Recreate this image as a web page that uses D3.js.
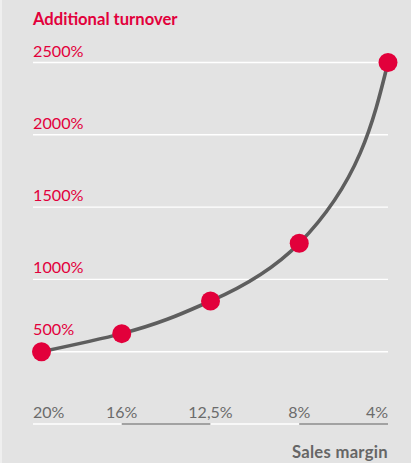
<!DOCTYPE html>
<html>
<head>
<meta charset="utf-8">
<script src="https://cdn.jsdelivr.net/npm/d3@7"></script>
<style>
  html, body { margin: 0; padding: 0; background: #e3e3e3; }
  svg { display: block; }
</style>
</head>
<body>
<script>
const categories = ["20%", "16%", "12,5%", "8%", "4%"];
const values = [500, 625, 850, 1250, 2500];
const yTicks = [500, 1000, 1500, 2000, 2500];
const yTickLabels = ["500%", "1000%", "1500%", "2000%", "2500%"];
const titleText = "Additional turnover";
const xTitleText = "Sales margin";

const W = 411, H = 463;
const red = "#e2003b", grey = "#6b6b6b";
const font = "Lato, 'Open Sans', sans-serif";

const svg = d3.select("body").append("svg").attr("width", W).attr("height", H);
svg.append("rect").attr("width", W).attr("height", H).attr("fill", "#e3e3e3");
svg.append("rect").attr("width", 2).attr("height", H).attr("fill", "#efefef");

const x = d3.scalePoint().domain(categories).range([33, 388]);
const y = d3.scaleLinear().domain([0, 2500]).range([424, 62.5]);
const r = 9.5;
const xLeft = x.range()[0], xRight = x.range()[1];
const cx = c => Math.max(x(c), xLeft + r - 1);

// gridlines
svg.append("g").selectAll("line").data(yTicks).join("line")
  .attr("x1", xLeft).attr("x2", xRight)
  .attr("y1", d => y(d)).attr("y2", d => y(d))
  .attr("stroke", "#ffffff").attr("stroke-width", 1.4);

// y tick labels
svg.append("g").selectAll("text").data(yTicks).join("text")
  .attr("x", xLeft)
  .attr("y", (d, i) => y(d) - (i === 0 ? 17 : 6))
  .attr("fill", red).attr("font-family", font).attr("font-size", 16.2)
  .text((d, i) => yTickLabels[i]);

// bottom axis segments
const segs = d3.pairs(categories);
svg.append("g").selectAll("line").data(segs).join("line")
  .attr("x1", d => x(d[0])).attr("x2", d => x(d[1]))
  .attr("y1", y(0)).attr("y2", y(0))
  .attr("stroke", (d, i) => i % 2 === 0 ? "#ffffff" : "#8c8c8c")
  .attr("stroke-width", 1.4);

// x tick labels
svg.append("g").selectAll("text").data(categories).join("text")
  .attr("x", d => x(d))
  .attr("y", 418)
  .attr("text-anchor", (d, i) => i === 0 ? "start" : (i === categories.length - 1 ? "end" : "middle"))
  .attr("fill", grey).attr("font-family", font).attr("font-size", 16)
  .text(d => d);

// line
const data = categories.map((c, i) => ({ c, v: values[i] }));
const line = d3.line().x(d => cx(d.c)).y(d => y(d.v)).curve(d3.curveMonotoneY);
svg.append("path").datum(data).attr("d", line)
  .attr("fill", "none").attr("stroke", "#5e5e5e").attr("stroke-width", 3.6);

// points
svg.append("g").selectAll("circle").data(data).join("circle")
  .attr("cx", d => cx(d.c)).attr("cy", d => y(d.v)).attr("r", r)
  .attr("fill", red);

// titles
svg.append("text").attr("x", xLeft).attr("y", 25)
  .attr("fill", red).attr("font-family", font).attr("font-weight", "bold").attr("font-size", 16.6)
  .text(titleText);
svg.append("text").attr("x", xRight).attr("y", 458).attr("text-anchor", "end")
  .attr("fill", "#666666").attr("font-family", font).attr("font-weight", "bold").attr("font-size", 16.6)
  .attr("letter-spacing", 0.3)
  .text(xTitleText);
</script>
</body>
</html>
